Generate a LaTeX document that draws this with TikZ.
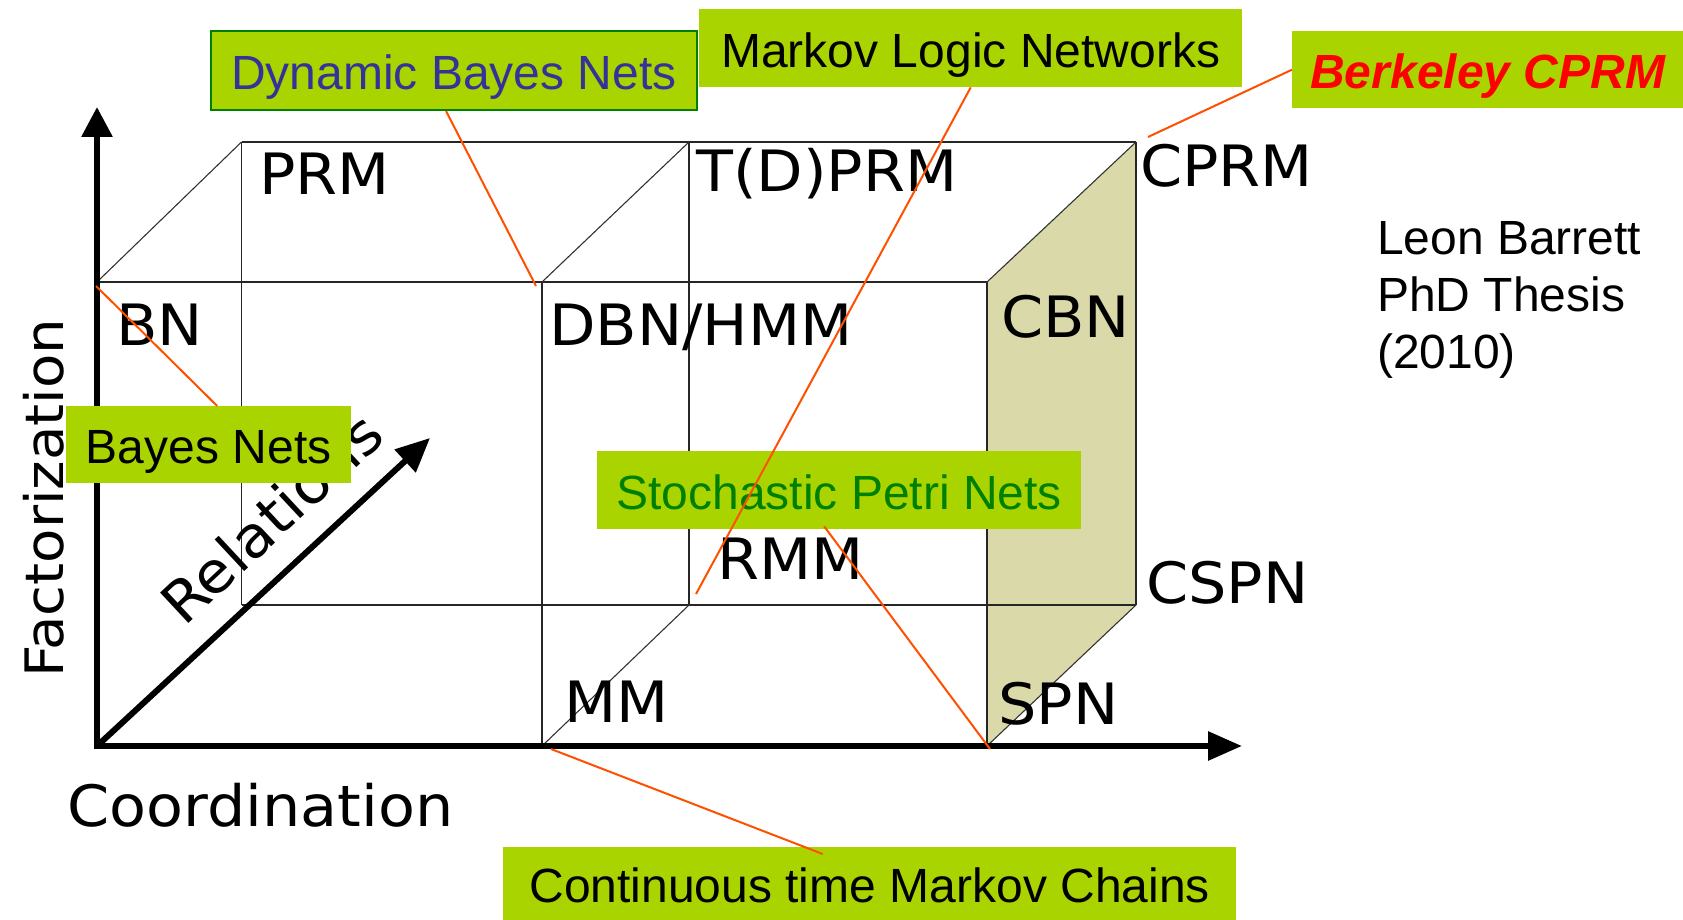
\documentclass[tikz,border=0pt]{standalone}
\usepackage{fontspec}
\setmainfont{Liberation Sans}
\newfontfamily\cubefont[FakeStretch=1.06]{DejaVu Sans}
\usetikzlibrary{arrows.meta}
\definecolor{boxgreen}{RGB}{170,212,0}
\definecolor{dbnblue}{RGB}{51,51,153}
\definecolor{spngreen}{RGB}{0,128,0}
\definecolor{faceshade}{RGB}{217,217,169}
\definecolor{leadorange}{RGB}{255,80,0}
\begin{document}
\begin{tikzpicture}[x=1pt,y=-1pt,
  cell/.style={line width=1.5pt, draw=black!85},
  celldiag/.style={line width=1.1pt, draw=black!80},
  axisline/.style={line width=6pt},
  lbl/.style={font=\cubefont\fontsize{57}{68}\selectfont, inner sep=0pt, anchor=base west},
  axislbl/.style={font=\cubefont\fontsize{57}{68}\selectfont, inner sep=0pt, anchor=base west},
  callout/.style={fill=boxgreen, inner sep=0pt, anchor=north west,
    text height=38pt, text depth=0pt, font=\fontsize{48}{56}\selectfont},
  plain/.style={font=\fontsize{48}{56}\selectfont, inner sep=0pt, anchor=base west},
  lead/.style={draw=leadorange, line width=2pt}
]
\useasboundingbox (0,0) rectangle (1683,920);

% cube corners: front face, back face
\coordinate (F1) at (97,282);   \coordinate (F2) at (542,282);   \coordinate (F3) at (987,282);
\coordinate (O)  at (97,746);   \coordinate (B2) at (542,746);   \coordinate (B3) at (987,746);
\coordinate (K1) at (241.5,142); \coordinate (K2) at (689,142); \coordinate (K3) at (1136,142);
\coordinate (L1) at (241.5,605); \coordinate (L2) at (689,605); \coordinate (L3) at (1136,605);

% axis ends
\coordinate (ytip) at (97,107);
\coordinate (xtip) at (1242,746);
\coordinate (rtip) at (430,438);

% shaded side face
\fill[faceshade] (F3) -- (K3) -- (L3) -- (B3) -- cycle;

% grid lines of the cube
\draw[cell] (K1) -- (K3);
\draw[cell] (F1) -- (F3);
\draw[cell] (L1) -- (L3);
\draw[cell] (K1) -- (L1);
\draw[cell] (F2) -- (B2);
\draw[cell] (K2) -- (L2);
\draw[cell] (F3) -- (B3);
\draw[cell] (K3) -- (L3);
\draw[celldiag] (F1) -- (K1);
\draw[celldiag] (F2) -- (K2);
\draw[celldiag] (F3) -- (K3);
\draw[celldiag] (B2) -- (L2);
\draw[celldiag] (B3) -- (L3);

% axes
\draw[axisline, {Triangle[length=30pt,width=30pt]}-{Triangle[length=34pt,width=28pt]}]
  (ytip) -- (O) -- (xtip);
\draw[axisline, -{Triangle[length=34pt,width=30pt]}] (O) -- (rtip);

% cube labels
\node[lbl] (prm)   at (259,194) {PRM};
\node[lbl] (tdprm) at (696,192) {T(D)PRM};
\node[lbl] (cprm)  at (1140,186) {CPRM};
\node[lbl] (bn)    at (116,345) {BN};
\node[lbl] (dbnhmm) at (549,345) {DBN/HMM};
\node[lbl] (cbn)   at (1001,337) {CBN};
\node[lbl] (rmm)   at (717,579) {RMM};
\node[lbl] (cspn)  at (1146,603) {CSPN};
\node[lbl] (mm)    at (564,722) {MM};
\node[lbl] (spnl)  at (998,724) {SPN};

% axis labels
\node[axislbl] (coord) at (67,826) {Coordination};
\node[axislbl, rotate=90, font=\cubefont\fontsize{53}{64}\selectfont] (fact) at (63,678) {Factorization};
\node[axislbl, rotate=43] (rel) at (184,628) {Relations};

% author note
\node[plain] (note1) at (1377,254) {Leon Barrett};
\node[plain] (note2) at (1377,311) {PhD Thesis};
\node[plain] (note3) at (1377,368) {(2010)};

% callout boxes
\node[callout, draw=spngreen, line width=2pt, minimum width=486pt, minimum height=79pt,
  text=dbnblue] (dbn) at (210,30) {Dynamic Bayes Nets};
\node[callout, minimum width=543pt, minimum height=78pt] (mln) at (699,9) {Markov Logic Networks};
\node[callout, minimum width=391pt, minimum height=77pt, text=red,
  font=\fontsize{48}{56}\selectfont\bfseries\itshape] (berk) at (1292,31) {Berkeley CPRM};
\node[callout, minimum width=285pt, minimum height=77pt] (bayes) at (66,406) {Bayes Nets};
\node[callout, minimum width=484pt, minimum height=78pt, text=spngreen] (spn) at (597,451) {Stochastic Petri Nets};
\node[callout, minimum width=733pt, minimum height=73pt] (ctmc) at (503,847) {Continuous time Markov Chains};

% leader lines from the callouts
\coordinate (pdbn)   at (536,286);
\coordinate (pmln)   at (696,594);
\coordinate (pberk)  at (1148,137);
\coordinate (pbayes) at (96,286);
\coordinate (pspn)   at (990,749);
\coordinate (pctmc)  at (551,749);
\draw[lead] ([xshift=-8pt]dbn.south) -- (pdbn);
\draw[lead] (mln.south) -- (pmln);
\draw[lead] (berk.west) -- (pberk);
\draw[lead] ([xshift=8.5pt]bayes.north) -- (pbayes);
\draw[lead] ([xshift=-15pt,yshift=3pt]spn.south) -- (pspn);
\draw[lead] (pctmc) -- ([xshift=-47pt,yshift=-7pt]ctmc.north);
\end{tikzpicture}
\end{document}
